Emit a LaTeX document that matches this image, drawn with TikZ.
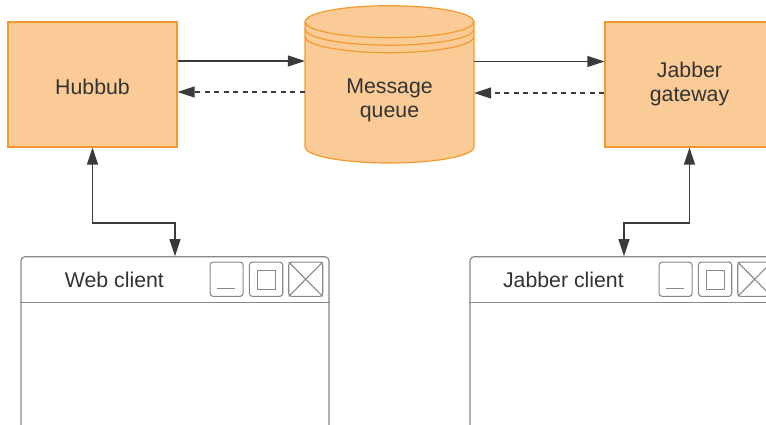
\documentclass[tikz,border=0pt]{standalone}
\usepackage{fontspec}
\setmainfont{Liberation Sans}
\usetikzlibrary{arrows.meta,calc}
\definecolor{boxfill}{HTML}{FACB96}
\definecolor{boxline}{HTML}{F39A2E}
\definecolor{txt}{HTML}{333333}
\definecolor{conn}{HTML}{3A3A3A}
\definecolor{winline}{HTML}{888888}
\tikzset{
  orangebox/.style={draw=boxline, fill=boxfill, line width=1.2pt, minimum width=169pt, minimum height=125pt, inner sep=0pt, text=txt, align=center, font=\fontsize{21.3}{24.5}\selectfont},
  conline/.style={draw=conn, line width=1.2pt, {Triangle[length=17pt,width=11pt]}-{Triangle[length=17pt,width=11pt]}},
  oneway/.style={draw=conn, line width=1.2pt, -{Triangle[length=17pt,width=11pt]}},
  dashway/.style={oneway, dash pattern=on 5pt off 4.5pt},
  winframe/.style={draw=winline, line width=1.2pt, rounded corners=4pt, minimum width=308pt, minimum height=184pt, inner sep=0pt, fill=white},
  winbtn/.style={draw=winline, line width=1.1pt, rounded corners=3pt},
  wintitle/.style={text=txt, font=\fontsize{21.3}{24.5}\selectfont, inner sep=0pt},
}
\begin{document}
\begin{tikzpicture}[x=1pt,y=-1pt]
\useasboundingbox (0,0) rectangle (766,425);
\clip (0,0) rectangle (766,425);
% Hubbub and gateway
\node[orangebox] (hub) at (92.5,84.5) {};
\node[text=txt, font=\fontsize{21.3}{24.5}\selectfont, inner sep=0pt] (hublabel) at (92.5,86.5) {Hubbub};
\node[orangebox] (gw) at (689.5,84.5) {};
\node[text=txt, align=center, font=\fontsize{21.3}{24.5}\selectfont, inner sep=0pt] (gwlabel) at (689.5,84) {Jabber\\gateway};
% Cylinder
\filldraw[draw=boxline, fill=boxfill, line width=1.2pt]
  (305,21.7) -- (305,147) arc[start angle=180,end angle=360,x radius=84.5pt,y radius=16pt]
  -- (474,21.7) arc[start angle=0,end angle=180,x radius=84.5pt,y radius=16pt] -- cycle;
\draw[draw=boxline, line width=1.2pt]
  (305,21.7) arc[start angle=180,end angle=360,x radius=84.5pt,y radius=16pt]
  (305,29.2) arc[start angle=180,end angle=360,x radius=84.5pt,y radius=16pt]
  (305,36.7) arc[start angle=180,end angle=360,x radius=84.5pt,y radius=16pt];
\node[minimum width=169pt, minimum height=125pt, inner sep=0pt] (mq) at (389.5,84.5) {};
\node[text=txt, align=center, font=\fontsize{21.3}{24.5}\selectfont, inner sep=0pt] (mqlabel) at (389.5,100.5) {Message\\queue};
% Windows
\node[winframe] (web) at (175,348.7) {};
\node[winframe] (jc) at (624,348.7) {};
\foreach \w in {web,jc}{
  \draw[winline, line width=1.2pt] ($(\w.north west)+(0,46.3)$) -- ($(\w.north east)+(0,46.3)$);
  \draw[winbtn] ($(\w.north west)+(189.7,6)$) rectangle ($(\w.north west)+(222.7,40.3)$);
  \draw[winline, line width=1.1pt] ($(\w.north west)+(197,32.6)$) -- ($(\w.north west)+(215,32.6)$);
  \draw[winbtn] ($(\w.north west)+(229,6)$) rectangle ($(\w.north west)+(262.3,40.3)$);
  \draw[winline, line width=1.1pt] ($(\w.north west)+(236.7,14.3)$) rectangle ($(\w.north west)+(255,33)$);
  \draw[winbtn] ($(\w.north west)+(268.3,6)$) rectangle ($(\w.north west)+(302.3,40.3)$);
  \draw[winline, line width=1.1pt] ($(\w.north west)+(268.3,6)$) -- ($(\w.north west)+(302.3,40.3)$)
     ($(\w.north west)+(302.3,6)$) -- ($(\w.north west)+(268.3,40.3)$);
}
\node[wintitle] (webtitle) at ($(web.north west)+(94,24)$) {Web client};
\node[wintitle] (jctitle) at ($(jc.north west)+(94,24)$) {Jabber client};
% Connectors
\draw[oneway] (hub.east |- 0,61) -- (mq.west |- 0,61);
\draw[dashway] (mq.west |- 0,92) -- (hub.east |- 0,92);
\draw[oneway] (mq.east |- 0,61.5) -- (gw.west |- 0,61.5);
\draw[dashway] (gw.west |- 0,93) -- (mq.east |- 0,93);
\draw[conline] (hub.south) -- (hub.south |- 0,223) -| (web.north);
\draw[conline] (gw.south) -- (gw.south |- 0,223) -| (jc.north);
\end{tikzpicture}
\end{document}
